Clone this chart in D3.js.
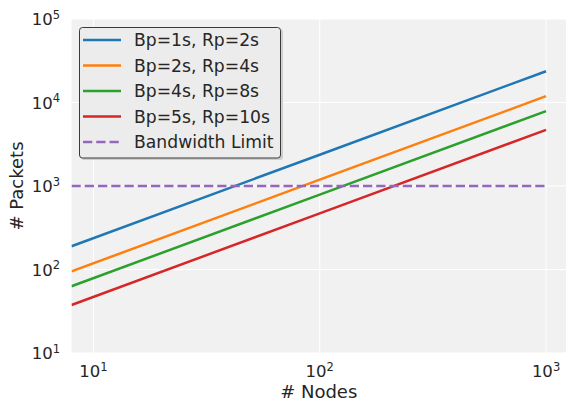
<!DOCTYPE html>
<html>
<head>
<meta charset="utf-8">
<script src="https://cdn.jsdelivr.net/npm/d3@7"></script>
<style>
  body { margin: 0; background: #fff; }
  svg { display: block; font-family: "DejaVu Sans", sans-serif; }
</style>
</head>
<body>
<svg id="chart" width="566" height="401"></svg>
<script>
// data
const nodes = [8, 100, 1000];
const bp1 = [190, 2370, 23700];
const bp2 = [95, 1190, 11900];
const bp4 = [63, 790, 7900];
const bp5 = [37.6, 470, 4700];
const bandwidth = [1000, 1000, 1000];

const seriesNames = ["Bp=1s, Rp=2s", "Bp=2s, Rp=4s", "Bp=4s, Rp=8s", "Bp=5s, Rp=10s", "Bandwidth Limit"];
const seriesColors = ["#1f77b4", "#ff7f0e", "#2ca02c", "#d62728", "#9467bd"];
const seriesValues = [bp1, bp2, bp4, bp5, bandwidth];

const xTicks = [10, 100, 1000];
const yTicks = [10, 100, 1000, 10000, 100000];

const margin = { top: 19, right: 0, bottom: 48, left: 71.5 };
const width = 566, height = 401;

const svg = d3.select("#chart");

const x = d3.scaleLog()
  .domain([8, 1225])
  .range([margin.left, width - margin.right]);

const y = d3.scaleLog()
  .domain([10, 100000])
  .range([height - margin.bottom, margin.top]);

svg.append("defs").append("clipPath")
  .attr("id", "plotclip")
  .append("rect")
  .attr("x", margin.left).attr("y", margin.top)
  .attr("width", width - margin.right - margin.left)
  .attr("height", height - margin.bottom - margin.top);

// plot background
svg.append("rect")
  .attr("x", margin.left).attr("y", margin.top)
  .attr("width", width - margin.right - margin.left)
  .attr("height", height - margin.bottom - margin.top)
  .attr("fill", "#f1f1f1");

// grid
const grid = svg.append("g").attr("stroke", "#fff").attr("stroke-width", 1);
grid.selectAll("line.xg")
  .data(xTicks)
  .join("line")
  .attr("x1", d => x(d)).attr("x2", d => x(d))
  .attr("y1", margin.top).attr("y2", height - margin.bottom);
grid.selectAll("line.yg")
  .data(yTicks)
  .join("line")
  .attr("x1", margin.left).attr("x2", width - margin.right)
  .attr("y1", d => y(d)).attr("y2", d => y(d));

// lines
const line = d3.line()
  .x((d, i) => x(nodes[i]))
  .y(d => y(d));

svg.append("g")
  .attr("clip-path", "url(#plotclip)")
  .selectAll("path")
  .data(seriesValues)
  .join("path")
  .attr("d", d => line(d))
  .attr("fill", "none")
  .attr("stroke", (d, i) => seriesColors[i])
  .attr("stroke-width", 2.5)
  .attr("stroke-dasharray", (d, i) => i === 4 ? "9.25,4" : null);

// tick labels with superscript exponents
function powerLabel(sel, v) {
  sel.append("tspan").text("10");
  sel.append("tspan")
    .attr("dy", -6.5)
    .attr("font-size", 11.5)
    .text(Math.round(Math.log10(v)));
}

svg.append("g")
  .selectAll("text")
  .data(xTicks)
  .join("text")
  .attr("x", d => x(d))
  .attr("y", 377)
  .attr("text-anchor", "middle")
  .attr("font-size", 16.5)
  .attr("fill", "#262626")
  .each(function (d) { powerLabel(d3.select(this), d); });

svg.append("g")
  .selectAll("text")
  .data(yTicks)
  .join("text")
  .attr("x", 60)
  .attr("y", d => y(d) + 6)
  .attr("text-anchor", "end")
  .attr("font-size", 16.5)
  .attr("fill", "#262626")
  .each(function (d) { powerLabel(d3.select(this), d); });

// axis labels
svg.append("text")
  .attr("x", (margin.left + width - margin.right) / 2)
  .attr("y", 398)
  .attr("text-anchor", "middle")
  .attr("font-size", 18)
  .attr("fill", "#262626")
  .text("# Nodes");

svg.append("text")
  .attr("transform", `translate(22.5,${(margin.top + height - margin.bottom) / 2}) rotate(-90)`)
  .attr("text-anchor", "middle")
  .attr("font-size", 18)
  .attr("fill", "#262626")
  .text("# Packets");

// legend
const legend = svg.append("g");
legend.append("rect")
  .attr("x", 81).attr("y", 29)
  .attr("width", 202).attr("height", 131)
  .attr("rx", 3)
  .attr("fill", "#cfcfcf");
legend.append("rect")
  .attr("x", 79.5).attr("y", 27.5)
  .attr("width", 201).attr("height", 130.5)
  .attr("rx", 3)
  .attr("fill", "#ececec")
  .attr("stroke", "#3a3a3a")
  .attr("stroke-width", 1);

const items = legend.selectAll("g.item")
  .data(seriesNames)
  .join("g")
  .attr("transform", (d, i) => `translate(0,${40 + i * 25.5})`);

items.append("line")
  .attr("x1", 83).attr("x2", 121)
  .attr("stroke", (d, i) => seriesColors[i])
  .attr("stroke-width", 2.5)
  .attr("stroke-dasharray", (d, i) => i === 4 ? "9.25,4" : null);

items.append("text")
  .attr("x", 134)
  .attr("y", 6)
  .attr("font-size", 17.2)
  .attr("fill", "#262626")
  .text(d => d);
</script>
</body>
</html>
